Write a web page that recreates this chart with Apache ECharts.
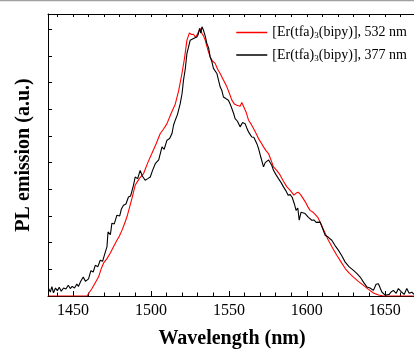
<!DOCTYPE html>
<html><head><meta charset="utf-8">
<script src="https://cdn.jsdelivr.net/npm/echarts@6/dist/echarts.min.js"></script>
<style>html,body{margin:0;padding:0;background:#fff}#c{width:414px;height:349px}</style>
</head><body><div id="c"></div>
<script>
const xMajorTicks = [1450, 1500, 1550, 1600, 1650];
const xMinorTicks = [1440, 1450, 1460, 1470, 1480, 1490, 1500, 1510, 1520, 1530, 1540, 1550, 1560, 1570, 1580, 1590, 1600, 1610, 1620, 1630, 1640, 1650, 1660];
const seriesNames = ['[Er(tfa)3(bipy)], 532 nm', '[Er(tfa)3(bipy)], 377 nm'];

const redWl = [1434.4,1459.0,1462.2,1464.3,1466.4,1468.0,1469.6,1471.8,1473.9,1476.0,1478.2,1479.8,1481.4,1483.0,1484.6,1486.2,1487.8,1489.9,1492.5,1495.3,1498.0,1500.6,1503.3,1506.0,1508.0,1510.3,1513.0,1515.6,1517.8,1519.9,1521.5,1523.1,1524.7,1526.0,1527.3,1528.5,1529.5,1530.5,1531.6,1532.7,1533.7,1534.8,1536.4,1538.0,1539.6,1541.2,1542.8,1544.4,1546.5,1548.7,1550.3,1551.9,1553.5,1555.1,1557.2,1558.3,1559.4,1561.0,1562.6,1564.2,1565.8,1567.4,1569.0,1570.6,1572.2,1573.8,1575.4,1577.0,1578.6,1580.8,1582.9,1585.0,1587.2,1589.5,1591.7,1593.0,1594.4,1596.0,1597.0,1599.1,1600.6,1602.1,1603.7,1605.3,1607.0,1608.5,1611.0,1613.8,1616.5,1619.2,1621.9,1624.6,1627.3,1629.9,1633.0,1636.3,1639.5,1642.7,1646.0,1649.1,1670];
const redVal = [0,0,0.28,0.50,0.71,1.00,1.23,1.40,1.60,1.85,2.09,2.25,2.46,2.70,2.96,3.30,3.65,4.15,4.40,4.59,5.00,5.34,5.70,6.09,6.25,6.46,6.85,7.19,7.70,8.34,8.90,9.59,9.86,9.80,9.81,9.70,9.78,9.90,10.03,9.85,9.75,9.59,9.25,8.96,8.80,8.72,8.50,8.34,8.10,7.84,7.60,7.34,7.20,7.15,7.11,7.25,7.21,6.90,6.59,6.45,6.28,6.10,5.90,5.75,5.59,5.45,5.34,5.10,4.84,4.70,4.53,4.30,4.09,3.95,3.78,3.85,3.89,3.80,3.85,3.52,3.35,3.21,3.15,3.06,2.95,2.77,2.45,2.09,1.80,1.53,1.28,1.03,0.85,0.71,0.55,0.40,0.25,0.11,0.04,0,0];

const blackWl = [1434.4,1435.5,1436.5,1437.5,1438.8,1440.0,1441.2,1442.5,1444.0,1445.5,1447.0,1448.3,1449.5,1451.0,1452.5,1453.5,1455.0,1456.6,1458.0,1460.0,1461.5,1463.0,1464.3,1466.0,1467.5,1469.0,1470.5,1471.8,1472.5,1474.0,1475.0,1476.5,1478.2,1480.0,1481.0,1482.4,1484.0,1485.6,1487.0,1488.8,1489.9,1491.5,1493.1,1494.5,1496.3,1498.0,1499.6,1501.0,1502.8,1505.0,1507.1,1508.5,1510.3,1512.0,1513.5,1514.5,1515.6,1517.0,1518.8,1520.0,1520.9,1522.0,1523.1,1524.0,1525.2,1526.2,1527.3,1528.5,1529.5,1530.3,1531.2,1532.0,1532.7,1533.7,1534.8,1535.9,1537.0,1538.0,1539.0,1540.1,1541.2,1542.3,1543.3,1544.4,1545.5,1546.5,1548.0,1549.7,1550.8,1551.9,1553.0,1554.0,1555.5,1557.2,1558.8,1560.4,1561.5,1562.6,1563.7,1564.7,1566.0,1566.9,1568.0,1569.0,1570.5,1572.2,1573.3,1574.4,1575.5,1576.5,1577.5,1578.6,1580.2,1581.8,1583.5,1585.0,1586.5,1588.0,1589.3,1590.6,1592.0,1593.1,1594.2,1595.1,1596.3,1597.5,1598.9,1601.0,1603.2,1604.5,1606.0,1607.2,1608.5,1610.0,1611.7,1613.8,1616.0,1618.0,1620.3,1622.5,1624.6,1627.0,1629.9,1632.0,1634.2,1636.5,1638.5,1640.5,1642.7,1644.4,1645.9,1647.0,1648.1,1650.2,1652.8,1654.0,1655.5,1657.3,1658.7,1660.9,1662.4,1664.1,1665.6,1667.3,1668.8];
const blackVal = [0.28,0.15,0.35,0.12,0.30,0.20,0.33,0.18,0.30,0.26,0.40,0.28,0.36,0.30,0.45,0.36,0.55,0.71,0.55,0.64,0.95,0.90,1.15,1.10,1.34,1.30,1.60,1.84,2.40,2.30,2.73,2.70,3.03,3.00,3.25,3.40,3.45,3.71,3.75,4.15,4.46,4.40,4.71,4.50,4.34,4.40,4.46,4.70,4.96,5.10,5.59,5.50,5.84,5.90,6.09,6.40,6.59,6.80,7.21,7.60,8.09,8.50,9.09,9.30,9.59,9.55,9.65,9.60,9.71,9.80,10.03,9.85,10.09,9.96,9.75,9.46,9.30,8.96,8.80,8.53,8.50,8.34,8.10,7.84,7.70,7.46,7.40,7.34,7.20,7.03,6.85,6.65,6.55,6.34,6.50,6.46,6.30,6.15,6.05,5.96,5.95,5.84,5.70,5.53,5.20,4.84,5.00,4.96,5.10,5.09,4.90,4.71,4.55,4.40,4.25,4.09,3.95,3.78,3.80,3.70,3.45,3.21,3.30,2.84,3.14,3.20,3.09,2.95,2.84,2.85,2.76,2.80,2.77,2.55,2.28,2.20,2.09,1.90,1.71,1.50,1.27,1.10,0.96,0.85,0.71,0.50,0.34,0.30,0.21,0.44,0.46,0.40,0.15,0.03,0.06,0.15,0.21,0.10,0.28,0.14,0.06,0.28,0.10,0.14,0.06];

const zip = (a, b) => a.map((v, i) => [v, b[i]]);
const serif = 'Liberation Serif, Times New Roman, serif';
const X_MIN = 1434, X_MAX = 1670;

const chart = echarts.init(document.getElementById('c'), null, {renderer: 'canvas'});
chart.setOption({
  animation: false,
  backgroundColor: '#fff',
  grid: {left: 48, top: 14, right: -2, bottom: 53, containLabel: false, outerBoundsMode: 'none'},
  graphic: [{type: 'line', shape: {x1: 0, y1: 0.5, x2: 414, y2: 0.5}, style: {stroke: '#a0a0a0', lineWidth: 1.5}}],
  legend: {
    orient: 'vertical', right: 2, top: 20, itemWidth: 31, itemHeight: 1.5, itemGap: 7,
    icon: 'rect',
    data: seriesNames,
    formatter: n => n.replace(')3(', '){s|3}('),
    textStyle: {fontFamily: serif, fontSize: 14, color: '#000', lineHeight: 15,
      rich: {s: {fontFamily: serif, fontSize: 9, color: '#000', padding: [7, 0, 0, 0]}}}
  },
  xAxis: [
    {type: 'value', position: 'bottom', min: X_MIN, max: X_MAX,
     axisLine: {show: true, lineStyle: {color: '#000', width: 1}},
     axisTick: {show: true, inside: true, length: 5, customValues: xMajorTicks, lineStyle: {color: '#000'}},
     axisLabel: {show: true, customValues: xMajorTicks, formatter: v => String(v), fontFamily: serif, fontSize: 16, color: '#000', margin: 7},
     splitLine: {show: false},
     name: 'Wavelength (nm)', nameLocation: 'middle', nameGap: 33,
     nameTextStyle: {fontFamily: serif, fontSize: 20, fontWeight: 'bold', color: '#000'}},
    {type: 'value', position: 'bottom', min: X_MIN, max: X_MAX,
     axisLine: {show: false},
     axisTick: {show: true, inside: true, length: 3.5, customValues: xMinorTicks, lineStyle: {color: '#000'}},
     axisLabel: {show: false}, splitLine: {show: false}},
    {type: 'value', position: 'top', min: X_MIN, max: X_MAX,
     axisLine: {show: true, lineStyle: {color: '#000', width: 1}},
     axisTick: {show: true, inside: true, length: 3, customValues: xMinorTicks, lineStyle: {color: '#000'}},
     axisLabel: {show: false}, splitLine: {show: false}}
  ],
  yAxis: {
    type: 'value', min: 0, max: 10.57, interval: 1,
    axisLine: {show: true, lineStyle: {color: '#000', width: 1}},
    axisTick: {show: true, inside: true, length: 4, lineStyle: {color: '#000'}},
    axisLabel: {show: false}, splitLine: {show: false},
    name: 'PL emission (a.u.)', nameLocation: 'middle', nameGap: 14,
    nameTextStyle: {fontFamily: serif, fontSize: 20, fontWeight: 'bold', color: '#000'}
  },
  series: [
    {name: seriesNames[0], type: 'line', xAxisIndex: 0, data: zip(redWl, redVal), symbol: 'none',
     lineStyle: {color: '#ff0000', width: 1.1}, itemStyle: {color: '#ff0000'}, z: 2},
    {name: seriesNames[1], type: 'line', xAxisIndex: 0, data: zip(blackWl, blackVal), symbol: 'none',
     lineStyle: {color: '#000000', width: 1.1}, itemStyle: {color: '#000000'}, z: 3}
  ]
});
</script></body></html>
